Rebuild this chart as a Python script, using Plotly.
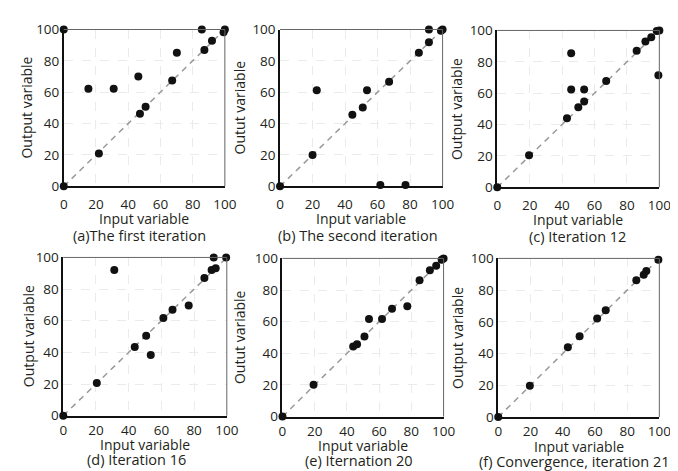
import plotly.graph_objects as go

# ---- data ----
a_x = [0, 0, 15.3, 31, 21.8, 46.3, 47.3, 50.8, 67.3, 70.2, 85.7, 87.3, 92, 99.2, 100]
a_y = [100, 0, 62.2, 62.2, 20.9, 70, 46.2, 50.7, 67.4, 85.2, 100, 86.9, 92.8, 98.2, 100]

b_x = [0, 20, 22.6, 44.5, 50.9, 53.5, 61.7, 67.1, 77.2, 85.4, 91.6, 91.6, 99, 100]
b_y = [0, 20, 61.2, 45.7, 50.2, 61.2, 0.8, 66.7, 0.8, 85.1, 91.8, 100, 99.2, 100]

c_x = [0, 19.6, 43, 45.6, 45.6, 50, 53.6, 53.6, 67.2, 86, 91.4, 95, 98.4, 100, 99.4]
c_y = [0, 20.4, 44, 85.5, 62.4, 51, 54.7, 62.4, 67.8, 87, 93, 95.7, 99.6, 100, 71.4]

d_x = [0, 20.5, 31.2, 43.7, 50.7, 53.5, 61.2, 66.8, 76.7, 86.3, 90.7, 93.2, 92, 99.6]
d_y = [0, 20.7, 92.1, 43.4, 50.5, 38.3, 61.7, 66.9, 69.6, 87, 92.1, 93.1, 100, 100]

e_x = [0, 19.3, 43.9, 46.3, 50.9, 53.7, 61.8, 68, 77.5, 85.1, 91.5, 95.4, 98.8, 100]
e_y = [0, 20.1, 44.4, 45.8, 50.7, 61.7, 61.7, 68.2, 69.8, 86.2, 92.5, 95.3, 99.2, 100]

f_x = [0, 19.6, 43.2, 50.5, 61.4, 66.7, 85.7, 90.3, 91.9, 99.4]
f_y = [0, 19.8, 44, 51, 62.1, 67.3, 86.3, 89.7, 92.1, 99.2]

xs = [a_x, b_x, c_x, d_x, e_x, f_x]
ys = [a_y, b_y, c_y, d_y, e_y, f_y]
captions = ["(a)The first iteration", "(b) The second iteration", "(c) Iteration 12",
            "(d) Iteration 16", "(e) Iternation 20", "(f) Convergence, iteration 21"]
ytitles = ["Output variable", "Outut variable", "Output variable",
           "Output variable", "Outut variable", "Output variable"]
xtitle = "Input variable"
ticks = [0, 20, 40, 60, 80, 100]

W, H = 678, 471
FONT = "Open Sans"
TXT = "#231f20"

# plot-area pixel boxes (left, right, top, bottom)
boxes = [(53, 218, 13, 176), (274.5, 441, 13, 176), (497, 663, 14, 177),
         (52.5, 220, 250, 414.5), (277, 442, 251, 415.5), (498, 663, 251, 416)]
ytitle_px = [15, 233, 456, 17, 233, 457]
caption_px = [131, 354, 579, 127, 355, 576.5]
# per-row offsets below the axis: tick standoff, x-title, caption
row_off = [(5, 34, 51), (1, 30.5, 46)]

fig = go.Figure()
layout = {}
annotations = []
shapes = []
for i in range(6):
    n = "" if i == 0 else str(i + 1)
    l, r, t, b = boxes[i]
    so, tt, cap = row_off[i // 3]
    xd = [l / W, r / W]
    yd = [1 - b / H, 1 - t / H]
    fig.add_trace(go.Scatter(x=[0, 100], y=[0, 100], mode="lines",
                             line=dict(color="#999999", width=1.5, dash="6px,5px"),
                             xaxis="x" + n, yaxis="y" + n, showlegend=False,
                             hoverinfo="skip"))
    fig.add_trace(go.Scatter(x=xs[i], y=ys[i], mode="markers",
                             marker=dict(color="#111111", size=8),
                             cliponaxis=False,
                             xaxis="x" + n, yaxis="y" + n, showlegend=False))
    common = dict(range=[0, 100], tickvals=ticks, showgrid=True,
                  gridcolor="#ebebeb", griddash="dash", gridwidth=1,
                  zeroline=False, showline=True, linecolor="#111111", linewidth=1.5,
                  tickfont=dict(family=FONT, size=13.5, color=TXT), fixedrange=True,
                  ticks="")
    layout["xaxis" + n] = dict(common, domain=xd, anchor="y" + n, ticklabelstandoff=so)
    layout["yaxis" + n] = dict(common, domain=yd, anchor="x" + n)
    shapes.append(dict(type="line", xref="x" + n + " domain", yref="y" + n + " domain",
                       x0=0, x1=1, y0=1, y1=1, line=dict(color="#666666", width=1)))
    shapes.append(dict(type="line", xref="x" + n + " domain", yref="y" + n + " domain",
                       x0=1, x1=1, y0=0, y1=1, line=dict(color="#666666", width=1)))
    cx = (xd[0] + xd[1]) / 2
    annotations.append(dict(text=xtitle, x=cx, xref="paper",
                            y=1 - (b + tt) / H, yref="paper", showarrow=False,
                            xanchor="center", yanchor="middle",
                            font=dict(family=FONT, size=14, color=TXT)))
    annotations.append(dict(text=captions[i], x=caption_px[i] / W, xref="paper",
                            y=1 - (b + cap) / H, yref="paper", showarrow=False,
                            xanchor="center", yanchor="middle",
                            font=dict(family=FONT, size=14.5, color=TXT)))
    annotations.append(dict(text=ytitles[i], x=ytitle_px[i] / W, xref="paper",
                            y=(yd[0] + yd[1]) / 2, yref="paper", showarrow=False,
                            textangle=-90, xanchor="center", yanchor="middle",
                            font=dict(family=FONT, size=14, color=TXT)))

fig.update_layout(**layout)
fig.update_layout(width=W, height=H, margin=dict(l=0, r=0, t=0, b=0),
                  paper_bgcolor="white", plot_bgcolor="white",
                  annotations=annotations, shapes=shapes, showlegend=False)
fig.write_html("out.html")
